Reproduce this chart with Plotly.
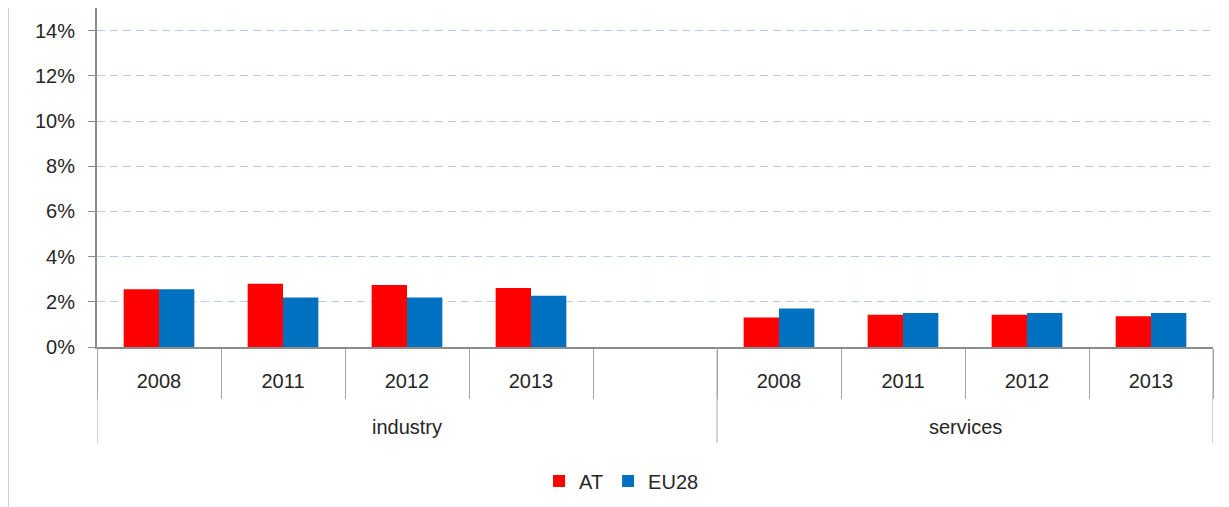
import plotly.graph_objects as go

groups = ["industry", "services"]
years = ["2008", "2011", "2012", "2013"]
at_industry = [0.0255, 0.0280, 0.0274, 0.0261]
eu_industry = [0.0255, 0.0219, 0.0219, 0.0227]
at_services = [0.0131, 0.0143, 0.0143, 0.0136]
eu_services = [0.0170, 0.0150, 0.0150, 0.0150]
series_names = ["AT", "EU28"]
series_colors = ["#ff0000", "#0070c0"]

n = len(years)
ind_x = list(range(n))
srv_x = [n + 1 + i for i in range(n)]
xs = ind_x + srv_x
total_slots = n * 2 + 1

FONT = "Liberation Sans, Arial, sans-serif"
TXT = "#262626"
AX = "#8c8c8c"

fig = go.Figure()
fig.add_trace(go.Bar(x=xs, y=at_industry + at_services, name=series_names[0],
                     marker=dict(color=series_colors[0], line=dict(width=0))))
fig.add_trace(go.Bar(x=xs, y=eu_industry + eu_services, name=series_names[1],
                     marker=dict(color=series_colors[1], line=dict(width=0))))

boundaries = [i - 0.5 for i in range(total_slots + 1)]
group_bounds = [-0.5, n + 0.5, total_slots - 0.5]

fig.update_layout(
    width=1221, height=499,
    margin=dict(l=89, r=16, t=0, b=160),
    paper_bgcolor="white", plot_bgcolor="white",
    barmode="group", bargap=0.43, bargroupgap=0,
    font=dict(family=FONT, size=20, color=TXT),
    showlegend=True,
    legend=dict(orientation="h", x=0.47, xanchor="center", y=-0.395, yanchor="middle",
                font=dict(size=20, color=TXT), itemwidth=30, tracegroupgap=0,
                bgcolor="rgba(0,0,0,0)"),
    xaxis=dict(range=[-0.5, total_slots - 0.5], tickmode="array",
               tickvals=xs, ticktext=years + years, ticks="", showgrid=False,
               showline=True, linecolor=AX, linewidth=2, zeroline=False,
               ticklabelstandoff=15, tickfont=dict(size=20, color=TXT),
               minor=dict(tickmode="array", tickvals=boundaries, ticks="outside",
                          ticklen=50, tickcolor="#a6a6a6", tickwidth=1, showgrid=False)),
    yaxis=dict(range=[0, 0.15], tickmode="array",
               tickvals=[0, 0.02, 0.04, 0.06, 0.08, 0.10, 0.12, 0.14],
               tickformat=".0%", showgrid=True, gridcolor="#b8cbec", gridwidth=1,
               griddash="8px,5px", zeroline=False, showline=True, linecolor=AX,
               linewidth=2, ticks="outside", ticklen=7, tickcolor=AX,
               tickfont=dict(size=20, color=TXT), ticklabelstandoff=9),
)

for gx in group_bounds:
    fig.add_shape(type="line", xref="x", yref="paper", x0=gx, x1=gx, y0=0, y1=-0.283,
                  line=dict(color="#a6a6a6", width=1))

centers = [(group_bounds[0] + group_bounds[1]) / 2, (group_bounds[1] + group_bounds[2]) / 2]
for g, cx in zip(groups, centers):
    fig.add_annotation(x=cx, xref="x", y=-0.236, yref="paper", text=g, showarrow=False,
                       font=dict(size=20, color=TXT), yanchor="middle")

fig.add_shape(type="line", xref="paper", yref="paper", x0=-0.08, x1=-0.08,
              y0=1.0, y1=-0.5, line=dict(color="#bfbfbf", width=2))

fig.write_html("out.html")
